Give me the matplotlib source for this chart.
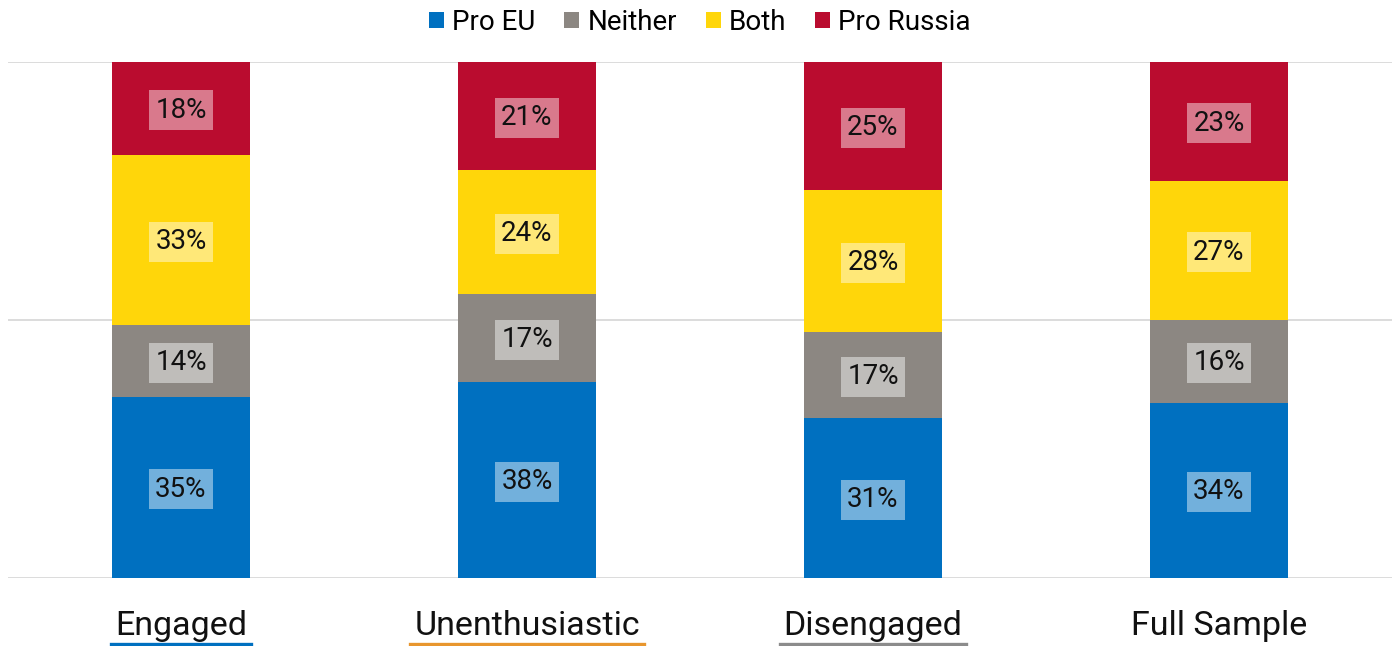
import matplotlib
matplotlib.use("Agg")
import matplotlib.pyplot as plt
from matplotlib.lines import Line2D
import numpy as np

plt.rcParams['font.family'] = ['Roboto', 'DejaVu Sans']

categories = ["Engaged", "Unenthusiastic", "Disengaged", "Full Sample"]
series_names = ["Pro EU", "Neither", "Both", "Pro Russia"]
pro_eu = [35, 38, 31, 34]
neither = [14, 17, 16.6, 16]
both = [33, 24, 27.6, 27]
pro_russia = [18, 21, 24.8, 23]
underline_colors = ["#0070C0", "#E8962E", "#8C8C8C", None]

colors = ["#0070C0", "#8C8782", "#FFD60A", "#BA0C2F"]
series = [pro_eu, neither, both, pro_russia]

fig = plt.figure(figsize=(14, 6.46), dpi=100)
ax = fig.add_axes([8 / 1400, (646 - 578) / 646, 1384 / 1400, 516 / 646])

x = np.arange(len(categories))
bottom = np.zeros(len(categories))
handles = []
for name, vals, col in zip(series_names, series, colors):
    vals = np.array(vals, dtype=float)
    bars = ax.bar(x, vals, width=0.4, bottom=bottom, color=col, label=name, zorder=2)
    handles.append(bars)
    for xi, b, v in zip(x, bottom, vals):
        ax.annotate(f"{round(v):d}%", xy=(xi, b + v / 2), xytext=(0, -1.2),
                    textcoords="offset points", ha="center", va="center",
                    fontsize=20, color="#111111", zorder=3,
                    bbox=dict(boxstyle="square,pad=0.23", facecolor="white",
                              edgecolor="none", alpha=0.45))
    bottom += vals

ax.set_xlim(-0.5, len(categories) - 0.5)
ax.set_ylim(0, 100)
ax.set_yticks([0, 50, 100])
ax.yaxis.grid(True, color="#D9D9D9", linewidth=1.3, zorder=0)
ax.tick_params(left=False, labelleft=False, bottom=False, labelbottom=False)
for s in ax.spines.values():
    s.set_visible(False)

# category labels with coloured underlines
fig.canvas.draw()
renderer = fig.canvas.get_renderer()
inv = fig.transFigure.inverted()
for xi, cat, ucol in zip(x, categories, underline_colors):
    t = ax.text(xi, -11.0, cat, ha="center", va="baseline", fontsize=24.5,
                color="#111111", transform=ax.transData, clip_on=False)
    if ucol:
        bb = t.get_window_extent(renderer=renderer)
        (x0, _), (x1, _) = inv.transform([(bb.x0 - 4, 0), (bb.x1 + 4, 0)])
        yl = (646 - 644) / 646
        fig.add_artist(Line2D([x0, x1], [yl, yl], color=ucol, linewidth=2.4,
                              transform=fig.transFigure))

fig.legend(handles=handles, labels=series_names, loc="center",
           bbox_to_anchor=(0.5, (646 - 22.5) / 646), ncol=4, frameon=False,
           fontsize=20, handlelength=0.54, handleheight=0.5,
           handletextpad=0.29, columnspacing=1.04)

fig.savefig("out.png", dpi=100)
